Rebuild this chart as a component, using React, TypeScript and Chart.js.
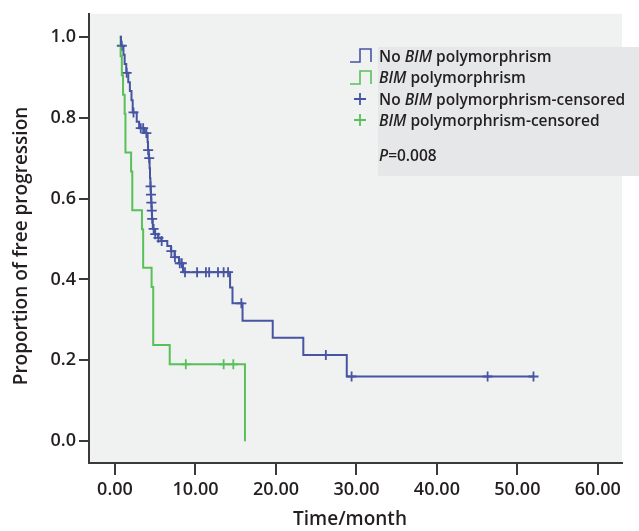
import React, { useEffect, useRef } from "react";
import { Chart, registerables } from "chart.js";

Chart.register(...registerables);

// ---- Data ----
const xTickValues = [0, 10, 20, 30, 40, 50, 60];
const yTickValues = [0, 0.2, 0.4, 0.6, 0.8, 1.0];
const xTitle = "Time/month";
const yTitle = "Proportion of free progression";

// No BIM polymorphism: event times (months) and survival after each event
const noBimTimes = [0.6, 0.75, 1.05, 1.2, 1.4, 1.65, 1.85, 2.05, 2.2, 2.7, 3.0, 3.7, 4.05, 4.1, 4.2, 4.3, 4.35, 4.4, 4.45, 4.5, 4.55, 4.6, 4.7, 4.95, 5.35, 5.75, 6.5, 6.95, 7.4, 7.95, 8.45, 14.3, 14.6, 15.85, 19.6, 23.4, 28.8, 52.0];
const noBimSurv = [1, 0.978, 0.956, 0.933, 0.911, 0.888, 0.866, 0.843, 0.813, 0.79, 0.774, 0.762, 0.74, 0.72, 0.7, 0.675, 0.65, 0.63, 0.61, 0.59, 0.57, 0.55, 0.525, 0.512, 0.503, 0.495, 0.483, 0.47, 0.455, 0.44, 0.418, 0.38, 0.341, 0.298, 0.256, 0.213, 0.16, 0.16];

// No BIM polymorphism: censored observations
const noBimCensorTimes = [0.85, 1.45, 2.3, 3.2, 3.5, 3.9, 4.12, 4.25, 4.42, 4.47, 4.52, 4.57, 4.62, 4.8, 5.0, 5.4, 5.8, 7.0, 7.45, 8.05, 8.3, 8.7, 10.2, 11.3, 11.7, 12.8, 13.5, 14.05, 15.7, 26.2, 29.4, 46.3, 52.0];
const noBimCensorSurv = [0.978, 0.911, 0.813, 0.774, 0.774, 0.762, 0.72, 0.7, 0.63, 0.61, 0.59, 0.57, 0.55, 0.525, 0.512, 0.503, 0.495, 0.47, 0.455, 0.44, 0.44, 0.418, 0.418, 0.418, 0.418, 0.418, 0.418, 0.418, 0.341, 0.213, 0.16, 0.16, 0.16];

// BIM polymorphism
const bimTimes = [0.6, 0.7, 0.85, 1.0, 1.2, 1.3, 2.0, 2.15, 3.35, 3.5, 4.55, 4.75, 6.8, 16.15];
const bimSurv = [1, 0.952, 0.905, 0.857, 0.81, 0.714, 0.667, 0.571, 0.524, 0.429, 0.381, 0.238, 0.19, 0.0];
const bimCensorTimes = [8.8, 13.5, 14.7];
const bimCensorSurv = [0.19, 0.19, 0.19];

const BLUE = "rgb(70, 84, 162)";
const GREEN = "rgb(88, 192, 88)";
const AXIS = "#3a3a3a";
const TEXT = "#231f20";
const FONT = "'Open Sans', 'Noto Sans', sans-serif";

const bgPlugin = {
  id: "plotBg",
  beforeDraw(chart: any) {
    const { ctx, chartArea } = chart;
    ctx.save();
    ctx.fillStyle = "#f0f1f1";
    ctx.fillRect(chartArea.left, chartArea.top, chartArea.right - chartArea.left, chartArea.bottom - chartArea.top);
    ctx.restore();
  },
  afterDraw(chart: any) {
    const { ctx } = chart;
    ctx.save();
    ctx.fillStyle = TEXT;
    ctx.font = `600 19px ${FONT}`;
    ctx.textAlign = "center";
    ctx.textBaseline = "middle";
    ctx.fillText(xTitle, 350, 520);
    ctx.translate(22, 246);
    ctx.rotate(-Math.PI / 2);
    ctx.fillText(yTitle, 0, 0);
    ctx.restore();
  },
};

const toPts = (xs: number[], ys: number[]) => xs.map((x, i) => ({ x, y: ys[i] }));

function StepIcon({ color, top }: { color: string; top: number }) {
  return (
    <svg width={24} height={17} style={{ position: "absolute", left: 349, top }}>
      <path d="M1 15 H11 V2 H22 V15" fill="none" stroke={color} strokeWidth={1.6} />
    </svg>
  );
}
function CrossIcon({ color, top }: { color: string; top: number }) {
  return (
    <svg width={14} height={14} style={{ position: "absolute", left: 353, top }}>
      <path d="M7 1 V13 M1 7 H13" fill="none" stroke={color} strokeWidth={1.8} />
    </svg>
  );
}

export default function App() {
  const ref = useRef<HTMLCanvasElement>(null);

  useEffect(() => {
    document.body.style.margin = "0";
    const canvas = ref.current!;
    const chart = new Chart(canvas, {
      type: "line",
      data: {
        datasets: [
          {
            data: toPts(noBimTimes, noBimSurv),
            borderColor: BLUE,
            borderWidth: 2,
            stepped: "before",
            pointRadius: 0,
            fill: false,
          },
          {
            data: toPts(bimTimes, bimSurv),
            borderColor: GREEN,
            borderWidth: 2,
            stepped: "before",
            pointRadius: 0,
            fill: false,
          },
          {
            data: toPts(noBimCensorTimes, noBimCensorSurv),
            showLine: false,
            pointStyle: "cross",
            pointRadius: 5,
            pointBorderWidth: 1.8,
            pointBorderColor: BLUE,
            borderColor: BLUE,
          },
          {
            data: toPts(bimCensorTimes, bimCensorSurv),
            showLine: false,
            pointStyle: "cross",
            pointRadius: 5,
            pointBorderWidth: 1.8,
            pointBorderColor: GREEN,
            borderColor: GREEN,
          },
        ] as any,
      },
      options: {
        animation: false,
        responsive: false,
        maintainAspectRatio: false,
        devicePixelRatio: 1,
        layout: { padding: { top: 12, right: 17, left: 0, bottom: 0 } },
        plugins: { legend: { display: false }, tooltip: { enabled: false } },
        scales: {
          x: {
            type: "linear",
            min: -3.23,
            max: 63.0,
            afterBuildTicks: (s: any) => {
              s.ticks = xTickValues.map((v) => ({ value: v }));
            },
            afterFit: (s: any) => {
              s.height = 68;
            },
            ticks: {
              autoSkip: false,
              maxRotation: 0,
              padding: 4,
              color: TEXT,
              font: { family: FONT, size: 18, weight: "600" },
              callback: (v: any) => Number(v).toFixed(2),
            },
            grid: { display: true, drawOnChartArea: false, drawTicks: true, tickLength: 12, color: AXIS, lineWidth: 2 },
            border: { display: true, color: AXIS, width: 2 },
            title: { display: false },
          },
          y: {
            type: "linear",
            min: -0.054,
            max: 1.057,
            afterBuildTicks: (s: any) => {
              s.ticks = yTickValues.map((v) => ({ value: v }));
            },
            afterFit: (s: any) => {
              s.width = 89;
            },
            ticks: {
              autoSkip: false,
              padding: 3,
              color: TEXT,
              font: { family: FONT, size: 18, weight: "600" },
              callback: (v: any) => Number(v).toFixed(1),
            },
            grid: { display: true, drawOnChartArea: false, drawTicks: true, tickLength: 10, color: AXIS, lineWidth: 2 },
            border: { display: true, color: AXIS, width: 2 },
            title: { display: false },
          },
        },
      } as any,
      plugins: [bgPlugin],
    });
    return () => chart.destroy();
  }, []);

  const rowStyle = (centerY: number): React.CSSProperties => ({
    position: "absolute",
    left: 379,
    top: centerY - 11,
    height: 22,
    lineHeight: "22px",
    fontFamily: FONT,
    fontSize: 15.5,
    fontWeight: 600,
    color: TEXT,
    whiteSpace: "nowrap",
  });

  return (
    <div style={{ position: "relative", width: 639, height: 531, background: "#fff", overflow: "hidden" }}>
      <canvas ref={ref} width={639} height={531} style={{ position: "absolute", left: 0, top: 0, width: 639, height: 531 }} />
      <div style={{ position: "absolute", left: 378, top: 47, width: 261, height: 129, background: "#e6e7e8" }} />
      <StepIcon color={BLUE} top={47} />
      <StepIcon color={GREEN} top={69} />
      <CrossIcon color={BLUE} top={92} />
      <CrossIcon color={GREEN} top={113} />
      <div style={rowStyle(55.5)}>No <i>BIM</i> polymorphrism</div>
      <div style={rowStyle(77)}><i>BIM</i> polymorphrism</div>
      <div style={rowStyle(98.5)}>No <i>BIM</i> polymorphrism-censored</div>
      <div style={rowStyle(119.5)}><i>BIM</i> polymorphrism-censored</div>
      <div style={rowStyle(154.5)}><i>P</i>=0.008</div>
    </div>
  );
}
